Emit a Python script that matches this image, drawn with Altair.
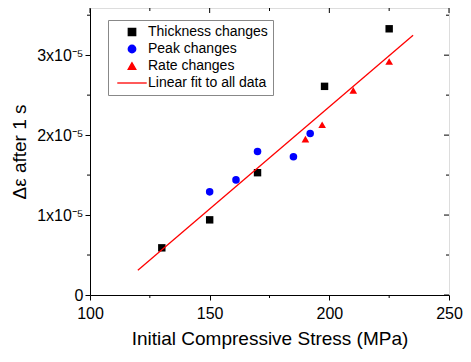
import altair as alt
import pandas as pd

series_names = ["Thickness changes", "Peak changes", "Rate changes", "Linear fit to all data"]

thickness_x = [130, 150, 170, 198, 225]
thickness_y = [0.59e-5, 0.94e-5, 1.53e-5, 2.61e-5, 3.33e-5]
peak_x = [150, 161, 170, 185, 192]
peak_y = [1.29e-5, 1.44e-5, 1.795e-5, 1.73e-5, 2.02e-5]
rate_x = [190, 197, 210, 225]
rate_y = [1.95e-5, 2.13e-5, 2.56e-5, 2.92e-5]
fit_x = [120, 235]
fit_y = [0.31e-5, 3.25e-5]

x_major = [100, 150, 200, 250]
x_minor = [125, 175, 225]
y_major = [0, 1e-5, 2e-5, 3e-5]
y_minor = [0.5e-5, 1.5e-5, 2.5e-5, 3.5e-5]
y_labels = ["0", "1x10⁻⁵", "2x10⁻⁵", "3x10⁻⁵"]

rows = []
for name, xs, ys in [(series_names[0], thickness_x, thickness_y),
                     (series_names[1], peak_x, peak_y),
                     (series_names[2], rate_x, rate_y)]:
    rows += [{"series": name, "stress": a, "strain": b} for a, b in zip(xs, ys)]
pts = pd.DataFrame(rows)
fit = pd.DataFrame({"series": series_names[3], "stress": fit_x, "strain": fit_y})

FONT = "Liberation Sans"
W, H = 359, 287

xscale = alt.Scale(domain=[100, 250], nice=False, zero=False)
yscale = alt.Scale(domain=[0, 3.59e-5], nice=False, zero=False)
color_scale = alt.Scale(domain=series_names, range=["#000000", "#0000ff", "#ff0000", "#ff0000"])
shape_scale = alt.Scale(domain=series_names, range=["square", "circle", "triangle-up", "M-3.8,0H3.8"])
size_scale = alt.Scale(domain=series_names, range=[55, 60, 90, 60])

legend = alt.Legend(title=None, orient="none", legendX=18, legendY=12, direction="vertical",
                    fillColor="white", strokeColor="#888888", padding=5,
                    labelFont=FONT, labelFontSize=14, labelColor="black",
                    symbolOffset=12, labelOffset=9, symbolSize=60,
                    rowPadding=3, symbolStrokeWidth=1.3, symbolOpacity=1)

ylab_expr = " : ".join(
    f"abs(datum.value - {v}) < 1e-9 ? '{t}'" for v, t in zip(y_major, y_labels)) + " : ''"

x_axis = alt.Axis(values=x_major, tickSize=5,
                  title="Initial Compressive Stress (MPa)", grid=False,
                  labelFont=FONT, labelFontSize=16, labelColor="black", labelPadding=5,
                  titleFont=FONT, titleFontSize=19, titleFontWeight="normal", titleColor="black",
                  titlePadding=8, domainColor="black", tickColor="black", labelFlush=False)

y_axis = alt.Axis(values=y_major, tickSize=5, labelExpr=ylab_expr,
                  title="Δε after 1 s", grid=False,
                  labelFont=FONT, labelFontSize=16, labelColor="black", labelPadding=2,
                  titleFont=FONT, titleFontSize=19, titleFontWeight="normal", titleColor="black",
                  titlePadding=7, domainColor="black", tickColor="black", labelFlush=False)

points = alt.Chart(pts).mark_point(filled=True, opacity=1).encode(
    x=alt.X("stress:Q", scale=xscale, axis=x_axis),
    y=alt.Y("strain:Q", scale=yscale, axis=y_axis),
    color=alt.Color("series:N", scale=color_scale, legend=legend),
    shape=alt.Shape("series:N", scale=shape_scale, legend=legend),
    size=alt.Size("series:N", scale=size_scale, legend=legend),
)

line = alt.Chart(fit).mark_line(strokeWidth=1.3).encode(
    x=alt.X("stress:Q", scale=xscale, axis=x_axis),
    y=alt.Y("strain:Q", scale=yscale, axis=y_axis),
    color=alt.Color("series:N", scale=color_scale, legend=legend),
)

def xticks(vals, y0, y1):
    return alt.Chart(pd.DataFrame({"v": vals})).mark_rule(color="black").encode(
        x=alt.X("v:Q", scale=xscale, axis=x_axis), y=alt.value(y0), y2=alt.value(y1))

def yticks(vals, x0, x1):
    return alt.Chart(pd.DataFrame({"v": vals})).mark_rule(color="black").encode(
        y=alt.Y("v:Q", scale=yscale, axis=y_axis), x=alt.value(x0), x2=alt.value(x1))

ticks = [
    xticks(x_major, 0, 5), xticks(x_minor, 0, 3),          # top, inward
    xticks(x_minor, H, H + 3),                              # bottom minor, outward
    yticks(y_major, W - 5, W), yticks(y_minor, W - 3, W),  # right, inward
    yticks(y_minor, -3, 0),                                 # left minor, outward
]

chart = alt.layer(points, line, *ticks).properties(
    width=W, height=H,
    autosize=alt.AutoSizeParams(type="none"),
    padding={"left": 82, "top": 0, "right": 14, "bottom": 58},
).configure_view(stroke="black", strokeWidth=1).configure(background="white")

chart.save("out.html", embed_options={"renderer": "svg", "actions": False})
